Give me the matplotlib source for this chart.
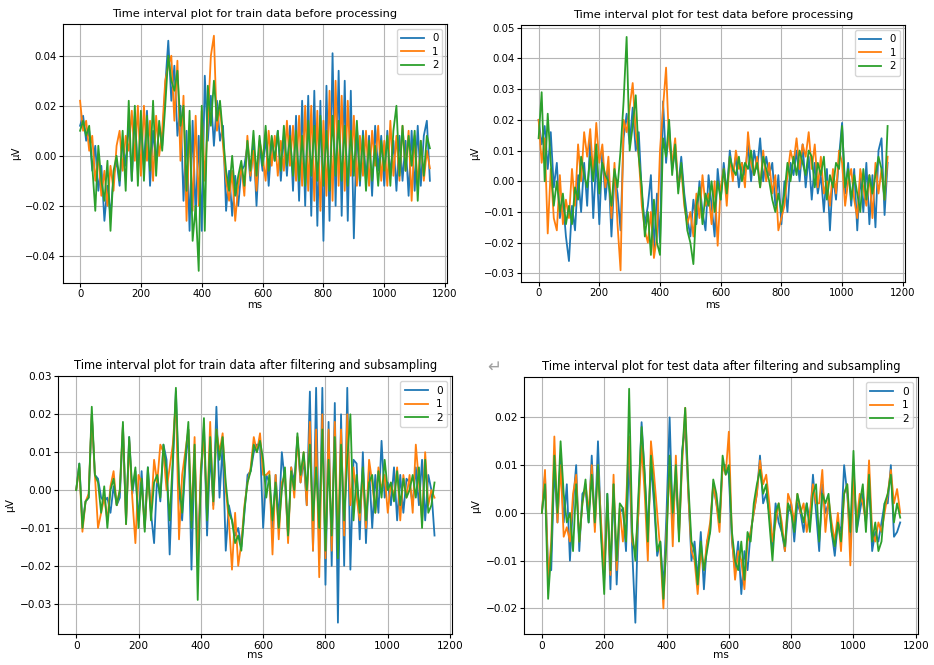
"""
plot.py
Time interval plots (train / test) before processing and after
filtering + subsampling, one trace per class label.
"""

import numpy as np
import matplotlib
matplotlib.use("Agg")
import matplotlib.pyplot as plt

# sample times in ms, one value every 10 ms
TIME_MS = np.arange(0, 1160, 10)

# all amplitudes below are in units of 1e-3
SCALE = 1e-3

CLASS_LABELS = ["0", "1", "2"]

TRAIN_RAW_0 = [
    12, 16, 6, 10, -6, 4, -14, -4, -26, -12,
    -24, -8, -2, -12, 6, -4, 14, -10, 16, -6,
    12, -4, 18, -12, 10, -2, 12, 4, 28, 46,
    22, 36, 8, 20, -18, 10, -30, 14, -24, 8,
    -30, 32, 6, 24, 4, 22, 6, 12, -22, -6,
    -24, -8, -20, -6, -4, 4, -10, 6, -20, 4,
    -6, 8, -12, 6, -2, 10, -10, 8, -8, 12,
    -14, 16, -18, 22, -20, 24, -24, 26, -28, 22,
    -34, 28, -26, 41, -20, 34, -24, 30, -26, 26,
    -33, 12, -12, 10, -10, 8, -16, 12, -6, 8,
    -12, 10, -8, 6, -14, 8, -10, 6, -16, 10,
    -14, 12, -12, 8, 14, -10,
]
TRAIN_RAW_1 = [
    22, 10, 14, 2, 8, -10, 0, -16, -6, -20,
    -4, -14, 4, 10, -6, 8, 2, 18, -2, 20,
    -8, 20, -2, 14, -10, 16, 0, 10, 30, 36,
    40, 14, 38, -2, 24, -26, 12, -22, 16, -20,
    18, -10, 14, 40, 48, 10, 20, 4, -10, -18,
    -6, -26, -12, -4, -16, 8, -8, 2, -14, 6,
    0, -10, 10, -4, 8, -8, 6, -6, 14, -4,
    12, -10, 16, -12, 20, -14, 20, -18, 18, -22,
    14, -16, 26, -18, 30, -12, 24, -14, 22, -8,
    16, -12, 8, -8, 10, -12, 10, -4, 12, -10,
    6, -12, 14, -8, 8, -10, 12, -6, 10, -18,
    8, -12, 6, -10, 2, -5,
]
TRAIN_RAW_2 = [
    10, 14, 8, 12, -4, -22, 4, -10, -18, -2,
    -30, -6, 0, -10, 10, -14, 22, -10, 20, -12,
    18, -10, 16, -6, 22, -8, 14, 2, 20, 40,
    30, 26, 34, 12, 20, -14, 18, -34, -20, -46,
    20, -30, 28, 12, 30, 14, 22, 8, -6, -14,
    0, -16, -8, -2, -12, 6, -6, 10, -8, 8,
    -4, 12, -6, 8, -2, 10, -6, 12, -4, 8,
    -8, 10, -10, 8, -12, 14, -8, 12, -10, 16,
    -12, 10, -14, 16, -8, 14, -10, 12, -12, 10,
    -8, 14, -10, 8, -14, 6, -10, 4, -12, 6,
    -6, 8, -12, 10, 20, -8, 12, -6, 8, -4,
    10, -18, 6, -8, 8, 3,
]

TEST_RAW_0 = [
    20, 12, 18, 4, 16, -2, 6, -12, -6, -18,
    -26, -8, -16, 2, -10, 6, -8, 14, -12, 8,
    -14, 10, -6, 4, -18, 2, -4, -16, 14, 22,
    12, 24, 10, 16, -4, -14, -8, 2, -22, -4,
    -20, 26, 6, 18, 4, 10, -2, 8, -4, -12,
    -18, -6, -14, 0, -10, -16, 2, -8, -18, 4,
    -6, 6, -4, 10, 2, 8, -2, 6, 2, 12,
    0, 10, 4, 14, 0, 8, 2, 6, -8, 2,
    -14, 0, -10, 6, 2, 10, 0, 12, -2, 8,
    -6, 6, -4, 2, -10, 4, -16, 2, -6, 8,
    19, -4, 6, -8, 4, -16, 2, -10, 6, -14,
    2, -15, 10, 14, -11, 6,
]
TEST_RAW_1 = [
    20, 6, 14, -17, 4, -12, -16, 2, -14, -6,
    -12, 4, -8, 12, 0, 16, 8, 17, 2, 19,
    6, 12, -2, 8, -12, 6, -14, -29, 20, 16,
    24, 32, 16, 8, -8, -16, -20, -10, -25, -18,
    10, 24, 37, 12, 6, 14, -2, 4, -8, -14,
    -10, -18, -4, -12, 2, -8, -4, -14, 0, -21,
    -2, 4, -8, 8, 0, 10, 4, 6, -2, 16,
    6, 2, 8, -2, 10, 0, 6, -4, 2, -16,
    -12, -8, 2, 10, 6, 14, 4, 12, 8, 16,
    4, 12, -2, 8, -4, 0, -8, 4, -4, 10,
    6, -8, 0, 4, -6, -12, 4, -2, -8, 2,
    -12, 6, -4, 4, -6, 8,
]
TEST_RAW_2 = [
    14, 29, 0, 22, 6, -8, 0, -10, -4, -14,
    -8, -14, -2, -6, 8, 2, -2, 8, 0, 12,
    -4, 6, 2, 0, -8, 4, -2, 10, 26, 47,
    10, 18, 28, 8, -2, -18, -10, -24, -6, -20,
    -24, 14, 8, 20, 2, 12, -4, 6, -6, -16,
    -20, -27, -8, -2, -14, -4, -8, 0, -10, 0,
    -6, 4, -4, 8, 4, 2, 8, 0, 6, 4,
    10, 2, 6, -2, 8, 4, 0, -6, -10, -4,
    -10, -4, 6, 0, 8, 2, 10, 6, 2, 10,
    8, -2, 6, 2, 8, -6, 2, -2, 6, 4,
    18, -2, 4, -6, 2, -4, -10, 4, -6, 2,
    -4, 2, 8, 4, -6, 18,
]

TRAIN_FILT_0 = [
    0, 7, -9, -3, -2, 20, 4, 3, -2, -3,
    -2, -6, 1, -4, -2, 17, -8, 14, -1, 5,
    -8, 5, -10, 6, -6, -14, 4, -3, 12, 8,
    -17, 6, 26, 0, -8, 6, 16, -21, 10, -16,
    2, 17, -12, 10, -4, 22, -2, 12, -16, -4,
    -8, -12, -10, -15, -6, 4, 5, 10, 12, 12,
    -10, 4, 2, -10, 4, -8, 10, 2, -12, 6,
    2, 14, 2, 8, -4, 26, -16, 27, -18, 27,
    -25, 18, -20, 23, -35, 20, -20, 27, -21, 8,
    7, -13, 10, -14, 6, -10, 4, -6, 13, -2,
    2, -4, 6, -8, 4, -6, 3, 2, -4, 6,
    -4, 8, -8, 4, 0, -12,
]
TRAIN_FILT_1 = [
    0, 6, -11, -3, -1, 20, 4, -10, -6, -2,
    -8, 1, 5, -4, 0, 17, -9, 13, -2, -14,
    4, 2, -10, 4, -6, 8, 2, 12, 10, 0,
    6, 12, 24, -13, 4, 10, 16, -8, 14, -20,
    6, 14, -6, 18, -5, 16, 10, 15, 0, -8,
    -21, -6, -20, -14, -4, 2, 6, 14, 10, 15,
    4, 4, 5, -17, 4, -13, 2, 4, -14, 6,
    -2, 14, 2, 10, -4, 18, -16, 16, -23, 20,
    -18, 16, -16, 18, -14, 16, -12, 20, -4, 6,
    -2, -8, 4, -10, 8, 2, -6, 6, 0, 4,
    -6, 2, -2, 6, -8, 4, -2, 4, -6, 12,
    2, -8, 10, -4, 0, -2,
]
TRAIN_FILT_2 = [
    0, 7, -10, -3, -2, 22, 4, 2, -6, 1,
    -10, 0, 3, -4, 0, 18, -9, 14, 0, 6,
    -10, 3, -11, 6, -8, 2, 4, -2, 12, 5,
    -8, 8, 27, 2, -6, 8, 18, -10, 12, -29,
    4, 19, -8, 14, -3, 16, 8, 14, 2, -6,
    -8, -14, -12, -16, -5, 2, 5, 12, 10, 13,
    8, -2, 4, -8, 2, -10, 0, 6, -12, 5,
    0, 15, 4, 10, 0, 12, -8, 6, -10, 16,
    -16, 8, -12, 14, -18, 12, -8, 8, 20, -8,
    4, -6, 6, -8, 2, 4, -6, 5, -2, 8,
    0, 2, -3, 5, -4, 3, -2, 0, 4, -2,
    6, -10, 8, -6, -4, 2,
]

TEST_FILT_0 = [
    0, 8, -12, -12, 10, -2, 12, -2, 6, -10,
    2, 10, -8, 4, 5, -2, 12, -3, 15, -4,
    -14, 4, -16, 6, -15, 0, 1, -8, 12, -8,
    -23, 2, 19, 8, -4, 10, 2, -9, -6, -16,
    0, 20, -2, 8, -4, 13, 18, 4, -10, -6,
    -14, -4, -16, -6, -4, 6, 2, -2, 10, 10,
    8, -6, -12, -6, -17, -8, -12, -4, 0, 4,
    12, 2, 4, 0, -8, 2, -2, -4, -8, 0,
    2, -6, 2, 0, -4, 2, -2, 8, 0, -8,
    6, 0, 2, -4, -9, -2, -4, 10, 4, -6,
    10, -4, 0, 4, -2, 6, -8, -4, -6, -2,
    2, 2, 10, -5, -4, -2,
]
TEST_FILT_1 = [
    0, 9, -14, -6, 16, -2, 10, -5, -3, -6,
    4, 8, -6, 2, 6, 0, 10, -4, 10, -2,
    -12, 2, -13, 8, -12, 1, -6, 2, 16, -6,
    -8, 0, 14, 4, -10, 15, 8, 0, -8, -20,
    -4, 10, -7, 12, -5, 10, 22, 4, -8, -10,
    -17, -8, -12, -6, -2, 6, 2, -4, 10, 8,
    17, -5, -14, -8, -10, -16, -6, -4, 0, 4,
    11, 6, 8, 2, -6, -2, 2, -2, -8, 4,
    2, -2, 4, 0, 2, -4, 0, 6, 2, 2,
    9, -4, 3, -2, -6, 0, -8, 4, 6, -11,
    8, -2, 4, 2, -2, 11, -4, -6, -2, -4,
    0, 4, 9, 2, 5, 0,
]
TEST_FILT_2 = [
    0, 6, -18, -8, 12, 0, 15, 4, -2, 0,
    -8, 6, -6, 2, 7, -2, 8, -2, 10, -5,
    -17, 4, -12, 6, -10, 2, 1, -6, 26, -4,
    -10, 4, 18, 8, -6, 12, 4, -8, -6, -18,
    -6, 12, 0, 10, -6, 12, 22, 6, -6, -8,
    -15, -6, -12, -8, -4, 7, 4, -2, 12, 8,
    10, -4, -10, -12, -6, -14, -4, -6, 2, 6,
    9, 4, 6, -2, -10, 0, 2, -4, -7, 2,
    0, -4, 4, 1, -2, 2, -4, 4, 6, -6,
    4, 2, 4, -4, -7, -2, -6, 4, 6, -4,
    13, -4, 2, 6, -4, 8, -6, -2, -8, -6,
    2, 4, 8, -2, 2, -1,
]

# (title, traces, axes rect in figure fractions, tick size, title size, xlabel pad)
PANELS = [
    ("Time interval plot for train data before processing",
     [TRAIN_RAW_0, TRAIN_RAW_1, TRAIN_RAW_2], [0.067, 0.575, 0.412, 0.389], 7.3, 8.2, 1),
    ("Time interval plot for test data before processing",
     [TEST_RAW_0, TEST_RAW_1, TEST_RAW_2], [0.558, 0.576, 0.411, 0.386], 7.3, 8.2, 1),
    ("Time interval plot for train data after filtering and subsampling",
     [TRAIN_FILT_0, TRAIN_FILT_1, TRAIN_FILT_2], [0.0624, 0.046, 0.422, 0.3885], 7.6, 8.3, -0.5),
    ("Time interval plot for test data after filtering and subsampling",
     [TEST_FILT_0, TEST_FILT_1, TEST_FILT_2], [0.561, 0.046, 0.422, 0.387], 7.6, 8.3, -0.5),
]


def draw_panel(fig, title, series, rect, fsize, tsize, xpad):
    ax = fig.add_axes(rect)
    for label, values in zip(CLASS_LABELS, series):
        ax.plot(TIME_MS, np.array(values) * SCALE, lw=1.3, label=label)
    ax.set_title(title, fontsize=tsize, pad=5)
    ax.set_xlabel("ms", fontsize=fsize, labelpad=xpad)
    ax.set_ylabel("\u03bcV", fontsize=fsize, labelpad=3)
    ax.set_xticks([0, 200, 400, 600, 800, 1000, 1200])
    ax.tick_params(labelsize=fsize, length=3, pad=1.5)
    ax.grid(True, color="#b5b5b5", lw=0.8)
    ax.legend(loc="upper right", fontsize=fsize, handlelength=2.2,
              borderpad=0.4, labelspacing=0.35)
    return ax


def main() -> None:
    fig = plt.figure(figsize=(9.34, 6.65), dpi=100)
    for title, series, rect, fsize, tsize, xpad in PANELS:
        draw_panel(fig, title, series, rect, fsize, tsize, xpad)
    # stray return glyph left over in the source document
    fig.text(0.522, 0.448, "\u21b5", fontsize=12, color="#a0a0a0",
             ha="left", va="center")
    fig.savefig("out.png", dpi=100)
    plt.close(fig)


if __name__ == "__main__":
    main()
